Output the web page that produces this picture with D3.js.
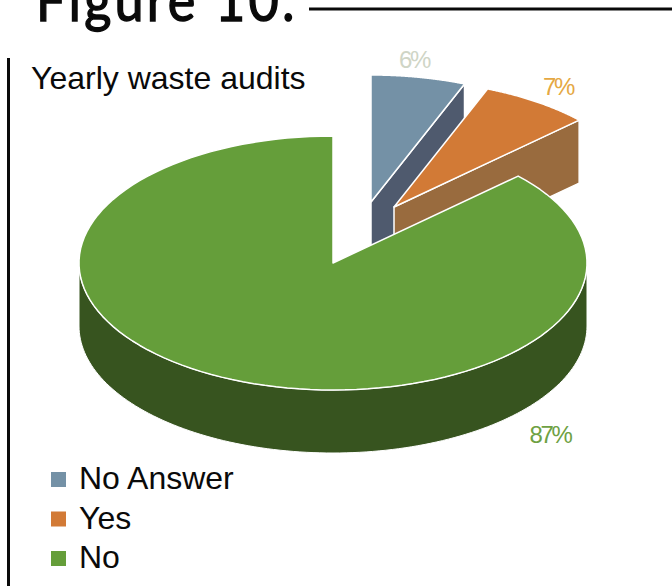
<!DOCTYPE html>
<html>
<head>
<meta charset="utf-8">
<style>
  html, body { margin: 0; padding: 0; background: #fff; overflow: hidden; }
  text { font-family: "Liberation Sans", Arial, sans-serif; }
</style>
<script src="https://cdn.jsdelivr.net/npm/d3@7/dist/d3.min.js"></script>
</head>
<body>
<svg id="chart" width="672" height="586"></svg>
<script>
const categories = ["No Answer", "Yes", "No"];
const shares = [6, 7, 87];
const topColors = ["#7491a6", "#d27a36", "#659e3a"];
const wallColors = ["#4f5a6e", "#996b3e", "#37541f"];
const labelColors = ["#cfd5c6", "#e5a843", "#6ea143"];

// Tilted pie geometry
const cx = 333, cy = 263, rx = 254, ry = 127, depth = 63;
const explode = [[38, -61], [61, -56], [0, 0]];
const labelAt = [[414, 68], [558, 95], [550, 443]];

const svg = d3.select("#chart");
const arcs = d3.pie().sort(null).value(d => d)(shares);
const line = d3.line();
const xUnit = d3.scaleLinear().domain([-1, 1]).range([cx - rx, cx + rx]);
const yUnit = d3.scaleLinear().domain([-1, 1]).range([cy - ry, cy + ry]);

// Angle is measured clockwise from twelve o'clock
const rim = (a, off, dz = 0) => [xUnit(Math.sin(a)) + off[0], yUnit(-Math.cos(a)) + off[1] + dz];
const sweep = (a0, a1) => d3.range(0, 121).map(i => a0 + (a1 - a0) * i / 120);

// Section heading and rules
svg.append("text").attr("x", 36).attr("y", 21)
  .attr("transform", "translate(36,0) scale(0.9,1) translate(-36,0)")
  .style("font-family", "Lato").style("font-weight", 400)
  .style("font-size", "58px").style("letter-spacing", "3.5px")
  .attr("fill", "#0a0a0a").attr("stroke", "#0a0a0a").attr("stroke-width", 1.4)
  .text("Figure 10:");
svg.append("line").attr("x1", 309).attr("x2", 672).attr("y1", 9).attr("y2", 9)
  .attr("stroke", "#0a0a0a").attr("stroke-width", 3);
svg.append("line").attr("x1", 8.5).attr("x2", 8.5).attr("y1", 58).attr("y2", 586)
  .attr("stroke", "#0a0a0a").attr("stroke-width", 3);

svg.append("text").attr("x", 31).attr("y", 89)
  .style("font-size", "32px").attr("fill", "#0a0a0a").text("Yearly waste audits");

// Slices are painted back to front so the large one overlaps the others
arcs.forEach((d, i) => {
  const off = explode[i];
  const apex = [cx + off[0], cy + off[1]];
  const g = svg.append("g");

  if (i < 2) {
    // Cut face along the trailing edge of an exploded slice
    const p = rim(d.endAngle, off);
    g.append("path")
      .attr("d", line([apex, p, [p[0], p[1] + depth], [apex[0], apex[1] + depth]]) + "Z")
      .attr("fill", wallColors[i]).attr("stroke", "#fff").attr("stroke-width", 1.5);
  } else {
    // Outer wall of the large slice, visible along the front half of the rim
    const front = sweep(Math.PI / 2, Math.PI * 1.5);
    const upper = front.map(a => rim(a, off));
    const lower = front.map(a => rim(a, off, depth)).reverse();
    g.append("path").attr("d", line(upper.concat(lower)) + "Z")
      .attr("fill", wallColors[i]).attr("stroke", "#fff").attr("stroke-width", 1);
  }

  const top = [apex].concat(sweep(d.startAngle, d.endAngle).map(a => rim(a, off)));
  g.append("path").attr("d", line(top) + "Z")
    .attr("fill", topColors[i]).attr("stroke", "#fff").attr("stroke-width", 1.5)
    .attr("stroke-linejoin", "round");

  svg.append("text").attr("x", labelAt[i][0]).attr("y", labelAt[i][1])
    .attr("text-anchor", "middle").style("font-size", "24px")
    .style("letter-spacing", "-2.4px").attr("fill", labelColors[i])
    .text(shares[i] + "%");
});

// Legend
const legendY = d3.scalePoint().domain(categories).range([480, 559]);
categories.forEach((c, i) => {
  svg.append("rect").attr("x", 51).attr("y", legendY(c) - 8).attr("width", 15).attr("height", 15)
    .attr("fill", topColors[i]);
  svg.append("text").attr("x", 79).attr("y", legendY(c) + 9)
    .style("font-size", "32px").attr("fill", "#0a0a0a").text(c);
});
</script>
</body>
</html>
